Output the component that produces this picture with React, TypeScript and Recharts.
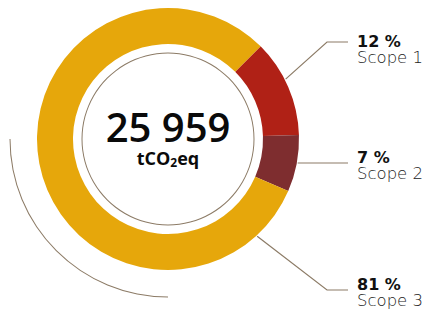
import { PieChart, Pie, Cell } from "recharts";

const scopeNames = ["Scope 1", "Scope 2", "Scope 3"];
const scopeShares = [12, 7, 81];
const scopeColors = ["#B02116", "#7E2D2F", "#E6A70B"];
const totalEmissions = "25 959";

const data = scopeNames.map((name, i) => ({ name, value: scopeShares[i] }));
const ring = [{ name: "ring", value: 1 }];

const LINE = "#8C7B66";
const FONT = "'DejaVu Sans', 'Open Sans', sans-serif";

// where each leader line leaves the ring (deg), its row offset and text baseline offset from centre
const leader = [
{ angle: 27, dy: -97, ty: -92 },
{ angle: -10.8, dy: 24, ty: 24 },
{ angle: -47.5, dy: 151, ty: 151 },
];

const RAD = Math.PI / 180;

function ScopeLabel(props: any) {
const { cx, cy, outerRadius, index } = props;
const l = leader[index];
const sx = cx + (outerRadius + 1) * Math.cos(l.angle * RAD);
const sy = cy - (outerRadius + 1) * Math.sin(l.angle * RAD);
const ly = cy + l.dy;
const ty = cy + l.ty;
const ex = cx + 159;
const end = cx + 180;
const tx = cx + 189;
return (
<g>
<polyline
points={index === 1 ? `${sx},${ly} ${end},${ly}` : `${sx},${sy} ${ex},${ly} ${end},${ly}`}
fill="none"
stroke={LINE}
strokeWidth={1.2}
/>
<text x={tx} y={ty} fontFamily={FONT} fontWeight={700} fontSize={16} fill="#111">
{scopeShares[index]} %
</text>
<text x={tx} y={ty + 16} fontFamily={FONT} fontWeight={200} fontSize={16.5} fill="#222">
{scopeNames[index]}
</text>
</g>
);
}

function CenterText(props: any) {
const { cx, cy } = props;
return (
<g>
<text x={cx} y={cy + 3} textAnchor="middle" fontFamily="'Open Sans', sans-serif" fontWeight={600} fontSize={40} fill="#0a0a0a">
{totalEmissions}
</text>
<text x={cx} y={cy + 26} textAnchor="middle" fontFamily="'Open Sans', sans-serif" fontWeight={700} fontSize={18} fill="#0a0a0a">
tCO<tspan fontSize={12} dy={2}>2</tspan><tspan dy={-2}>eq</tspan>
</text>
</g>
);
}

export default function App() {
return (
<div style={{ position: "absolute", left: 0, top: 0, width: 430, height: 313, background: "#fff" }}>
<PieChart width={430} height={313} margin={{ top: 0, right: 0, bottom: 0, left: 0 }}>
<Pie
data={ring}
dataKey="value"
cx={168}
cy={139}
innerRadius={157.5}
outerRadius={158.5}
startAngle={180}
endAngle={270}
fill={LINE}
stroke="none"
isAnimationActive={false}
/>
<Pie
data={ring}
dataKey="value"
cx={168}
cy={139}
innerRadius={85.5}
outerRadius={86.5}
startAngle={0}
endAngle={360}
fill={LINE}
stroke="none"
label={CenterText}
labelLine={false}
isAnimationActive={false}
/>
<Pie
data={data}
dataKey="value"
cx={168}
cy={139}
innerRadius={95}
outerRadius={131}
startAngle={45}
endAngle={-315}
stroke="none"
label={ScopeLabel}
labelLine={false}
isAnimationActive={false}
>
{data.map((d, i) => (
<Cell key={d.name} fill={scopeColors[i]} />
))}
</Pie>
</PieChart>
</div>
);
}
